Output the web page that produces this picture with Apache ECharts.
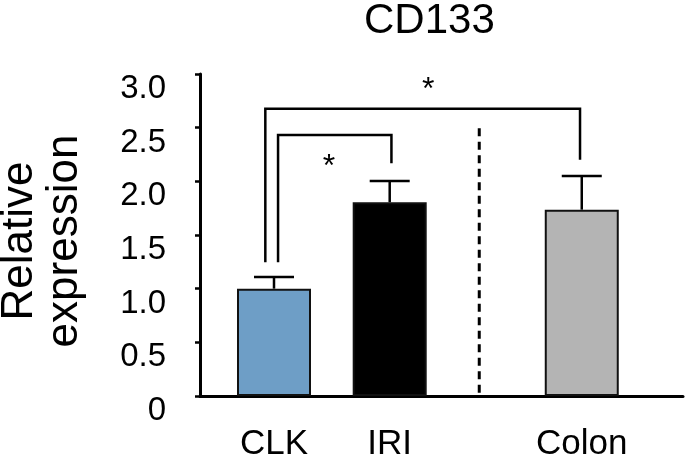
<!DOCTYPE html>
<html>
<head>
<meta charset="utf-8">
<script src="https://cdn.jsdelivr.net/npm/echarts@6/dist/echarts.min.js"></script>
<style>html,body{margin:0;padding:0;background:#fff}#c{width:687px;height:460px}</style>
</head>
<body>
<div id="c"></div>
<script>
// ---- data ----
var categories = ['CLK', 'IRI', 'Colon'];
var xPositions = [1, 2, 3.66];
var values = [1.0, 1.805, 1.736];
var errors = [0.108, 0.198, 0.314];
var barColors = ['#6e9ec6', '#000000', '#b4b4b4'];
var yTicks = [0, 0.5, 1.0, 1.5, 2.0, 2.5, 3.0];
var dividerX = 2.774;
var dividerTop = 2.494;
// significance brackets: [inner (CLK-IRI), outer (CLK-Colon)]
var bracketLeftX = [1.035, 0.925];
var bracketRightX = [2.015, 3.645];
var bracketTop = [2.432, 2.677];
var bracketLeftBottom = [1.245, 1.245];
var bracketRightBottom = [2.168, 2.20];
var starX = [1.475, 2.334];
var starY = [2.205, 2.92];
var starText = ['*', '*'];

var FONT = '"Liberation Sans", Arial, Helvetica, sans-serif';
var chart = echarts.init(document.getElementById('c'), null, {renderer: 'canvas'});

var barData = xPositions.map(function (x, i) {
  return {value: [x, values[i]], itemStyle: {color: barColors[i]}};
});
var errData = xPositions.map(function (x, i) { return [x, values[i], errors[i]]; });
var bracketData = bracketLeftX.map(function (x, i) {
  return [x, bracketRightX[i], bracketTop[i], bracketLeftBottom[i], bracketRightBottom[i]];
});
var starData = starX.map(function (x, i) { return [x, starY[i]]; });

var option = {
  animation: false,
  backgroundColor: '#ffffff',
  title: {
    text: 'CD133',
    left: 364, top: 0, padding: 0,
    textStyle: {fontFamily: FONT, fontSize: 42, fontWeight: 'normal', color: '#000'}
  },
  grid: {left: 200, right: 4, top: 74, bottom: 64, containLabel: false, outerBoundsMode: 'none'},
  xAxis: {
    type: 'value', min: 0.3604, max: 4.535,
    axisLine: {show: true, onZero: false, lineStyle: {color: '#000', width: 3}},
    axisTick: {show: false}, axisLabel: {show: false}, splitLine: {show: false}
  },
  yAxis: {
    type: 'value', min: yTicks[0], max: yTicks[yTicks.length - 1], interval: 0.5,
    name: 'Relative\nexpression',
    nameLocation: 'middle', nameRotate: 90, nameGap: 113,
    nameTextStyle: {fontFamily: FONT, fontSize: 44, lineHeight: 45, color: '#000', padding: [0, 12, 0, 0]},
    axisLine: {show: true, lineStyle: {color: '#000', width: 3}},
    axisTick: {show: true, inside: false, length: 5, lineStyle: {color: '#000', width: 2.5}},
    axisLabel: {
      fontFamily: FONT, fontSize: 33, color: '#000', margin: 34,
      verticalAlign: 'top', lineHeight: 30,
      formatter: function (v) { return v === 0 ? '0' : v.toFixed(1); }
    },
    splitLine: {show: false}
  },
  series: [
    {
      type: 'bar', data: barData, barWidth: 74,
      itemStyle: {borderColor: '#111', borderWidth: 2},
      label: {
        show: true, position: 'bottom', distance: 31,
        fontFamily: FONT, fontSize: 35, color: '#000',
        formatter: function (p) { return categories[p.dataIndex]; }
      },
      z: 2
    },
    {
      type: 'custom', data: errData, z: 3,
      renderItem: function (params, api) {
        var x = api.value(0), v = api.value(1), e = api.value(2);
        var p0 = api.coord([x, v]);
        var p1 = api.coord([x, v + e]);
        var st = {stroke: '#000', lineWidth: 2.5};
        return {type: 'group', children: [
          {type: 'line', shape: {x1: p0[0], y1: p0[1], x2: p1[0], y2: p1[1]}, style: st},
          {type: 'line', shape: {x1: p1[0] - 20, y1: p1[1], x2: p1[0] + 20, y2: p1[1]}, style: st}
        ]};
      }
    },
    {
      type: 'custom', data: bracketData, z: 3,
      renderItem: function (params, api) {
        var xl = api.value(0), xr = api.value(1), yt = api.value(2), yl = api.value(3), yr = api.value(4);
        var pts = [api.coord([xl, yl]), api.coord([xl, yt]), api.coord([xr, yt]), api.coord([xr, yr])];
        return {type: 'polyline', shape: {points: pts}, style: {stroke: '#000', lineWidth: 2.5, fill: null}};
      }
    },
    {
      type: 'custom', data: starData, z: 3,
      renderItem: function (params, api) {
        var p = api.coord([api.value(0), api.value(1)]);
        return {type: 'text', x: p[0], y: p[1] + 7.5, style: {
          text: starText[params.dataIndex], fontFamily: FONT, fontSize: 32, fill: '#000',
          align: 'center', verticalAlign: 'middle'
        }};
      }
    },
    {
      type: 'custom', data: [[dividerX, dividerTop]], z: 3,
      renderItem: function (params, api) {
        var p0 = api.coord([api.value(0), 0]);
        var p1 = api.coord([api.value(0), api.value(1)]);
        return {type: 'line', shape: {x1: p1[0], y1: p1[1], x2: p0[0], y2: p0[1]},
          style: {stroke: '#000', lineWidth: 3, lineDash: [8, 5.5]}};
      }
    }
  ]
};
chart.setOption(option);
</script>
</body>
</html>
